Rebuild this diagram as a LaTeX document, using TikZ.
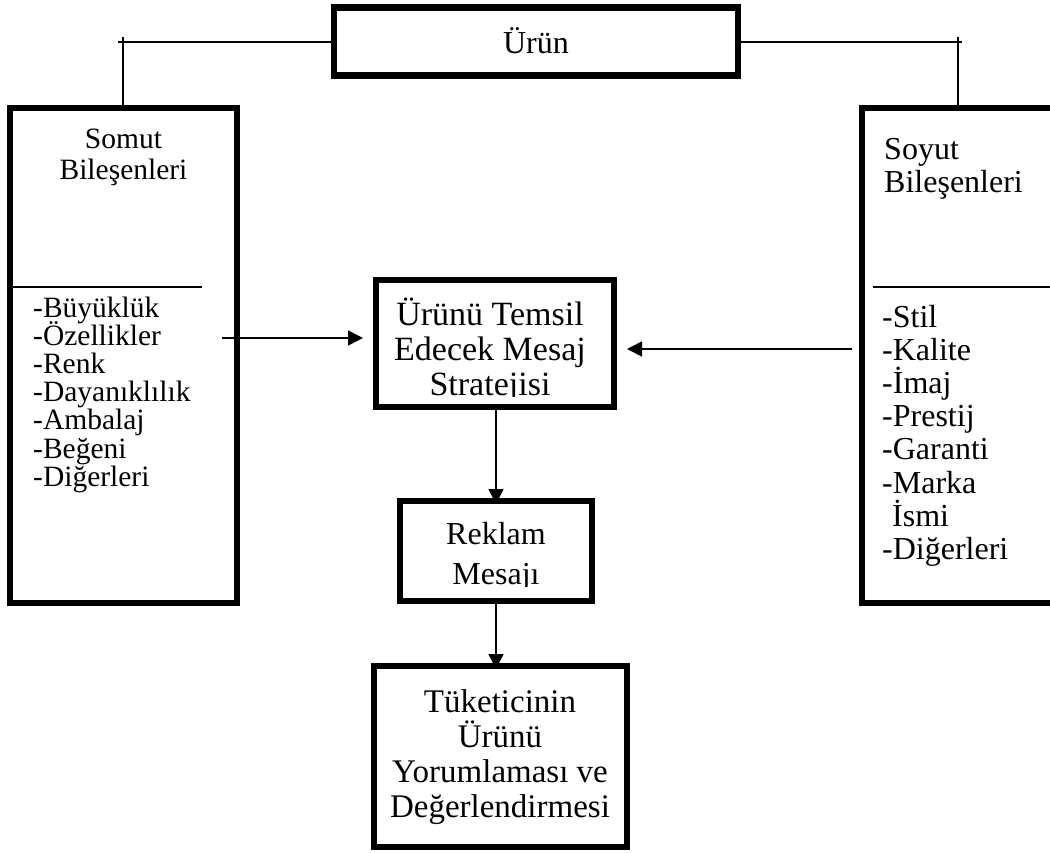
\documentclass[tikz,border=0pt]{standalone}
\usepackage{fontspec}
\setmainfont{Liberation Serif}
\usetikzlibrary{arrows.meta}
\begin{document}
\begin{tikzpicture}[x=1pt,y=-1pt,
  tbox/.style={draw, rectangle, line width=6.5pt, fill=white, inner sep=0pt, outer sep=0pt},
  thinline/.style={line width=1.4pt},
  arr/.style={line width=1.6pt, -{Triangle[length=15pt,width=15pt]}},
  lw/.style={anchor=base west, inner sep=0pt},
  lc/.style={anchor=base, inner sep=0pt},
  fleft/.style={font=\fontsize{29.5}{29.5}\selectfont},
  fright/.style={font=\fontsize{32}{32}\selectfont},
  fmid/.style={font=\fontsize{34}{34}\selectfont},
  frek/.style={font=\fontsize{32}{32}\selectfont},
  fcons/.style={font=\fontsize{33}{33}\selectfont},
  ftitle/.style={font=\fontsize{32}{32}\selectfont}
]
\useasboundingbox (0,0) rectangle (1050,852);
\clip (0,0) rectangle (1050,852);

% boxes
\node[tbox, minimum width=404pt, minimum height=68pt] (urun) at (536,41.5) {};
\node[tbox, minimum width=227pt, minimum height=495pt] (somut) at (123.5,355.5) {};
\node[tbox, minimum width=208pt, minimum height=495pt] (soyut) at (966,355.5) {};
\node[tbox, minimum width=238pt, minimum height=127pt] (strat) at (495,343.5) {};
\node[tbox, minimum width=192pt, minimum height=100pt] (reklam) at (496,551) {};
\node[tbox, minimum width=253pt, minimum height=181pt] (tuk) at (500.5,756.5) {};

% title text
\node[lc, ftitle] (urunt) at (536,53) {Ürün};

% top connectors
\coordinate (lend) at (118,42);
\coordinate (ltick) at (123,37);
\coordinate (rend) at (962,42);
\coordinate (rtick) at (958,37);
\draw[thinline] (urun.west |- lend) -- (lend);
\draw[thinline] (ltick) -- (ltick |- somut.north);
\draw[thinline] (urun.east |- rend) -- (rend);
\draw[thinline] (rtick) -- (rtick |- soyut.north);

% dividers
\coordinate (sdl) at (13,287);
\coordinate (sdr) at (202,287);
\coordinate (ydl) at (873,287);
\coordinate (ydr) at (1050,287);
\draw[thinline] (sdl) -- (sdr);
\draw[thinline] (ydl) -- (ydr);

% left texts
\node[lc, fleft] (st1) at (123.5,148) {Somut};
\node[lc, fleft] (st2) at (123.5,179) {Bileşenleri};
\foreach \t [count=\i] in {-Büyüklük,-Özellikler,-Renk,-Dayanıklılık,-Ambalaj,-Beğeni,-Diğerleri}
  \node[lw, fleft] (sl\i) at (33,{317+(\i-1)*28.2}) {\t};

% right texts
\node[lw, fright] (yt1) at (884,159) {Soyut};
\node[lw, fright] (yt2) at (884,192) {Bileşenleri};
\foreach \t [count=\i] in {-Stil,-Kalite,-İmaj,-Prestij,-Garanti,-Marka}
  \node[lw, fright] (yl\i) at (882,{327+(\i-1)*33.2}) {\t};
\node[lw, fright] (yl7) at (892,526.2) {İsmi};
\node[lw, fright] (yl8) at (882,559.4) {-Diğerleri};

% strategy box text (clipped as in the original)
\begin{scope}
  \clip (380,284) rectangle (610,396);
  \node[lc, fmid] (m1) at (490,325) {Ürünü Temsil};
  \node[lc, fmid] (m2) at (490,360) {Edecek Mesaj};
  \node[lc, fmid] (m3) at (490,395) {Stratejisi};
\end{scope}

% reklam text
\begin{scope}
  \clip (404,505) rectangle (588,586);
  \node[lc, frek] (r1) at (496,544) {Reklam};
  \node[lc, frek] (r2) at (496,584) {Mesajı};
\end{scope}

% consumer text
\node[lc, fcons] (c1) at (500,712) {Tüketicinin};
\node[lc, fcons] (c2) at (500,747) {Ürünü};
\node[lc, fcons] (c3) at (500,782) {Yorumlaması ve};
\node[lc, fcons] (c4) at (500,817) {Değerlendirmesi};

% arrows
\coordinate (la) at (222,338);
\coordinate (ra) at (852,349);
\draw[arr] (la) -- ([xshift=-13pt]strat.west |- la);
\draw[arr] (ra) -- ([xshift=13pt]strat.east |- ra);
\draw[arr] (strat.south -| reklam.north) -- ([yshift=-3pt]reklam.north);
\draw[arr] (reklam.south) -- ([yshift=-3pt]tuk.north -| reklam.south);
\end{tikzpicture}
\end{document}
